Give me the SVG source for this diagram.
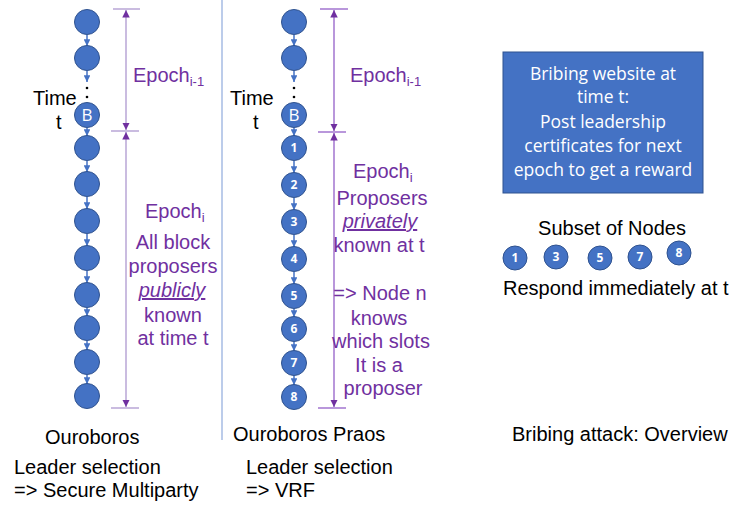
<svg xmlns="http://www.w3.org/2000/svg" width="729" height="510" viewBox="0 0 729 510">
<defs>
<marker id="ah" viewBox="0 0 10 10" refX="10" refY="5" markerWidth="4.5" markerHeight="4.5" orient="auto"><path d="M0,0 L10,5 L0,10 z" fill="#4472c4"/></marker>
<marker id="ph" viewBox="0 0 10 10" refX="10" refY="5" markerWidth="5" markerHeight="5" orient="auto"><path d="M0,0 L10,5 L0,10 z" fill="#7030a0"/></marker>
<style>
.n{fill:#4472c4;stroke:#2f528f;stroke-width:1}
.c{stroke:#4472c4;stroke-width:1.5;fill:none;marker-end:url(#ah)}
.lab{fill:#fff;font-family:"Open Sans","Liberation Sans",sans-serif;font-size:12px;font-weight:bold;text-anchor:middle}
.bl{fill:#fff;font-family:"Open Sans","Liberation Sans",sans-serif;font-size:17px;text-anchor:middle}
.t{font-family:"Liberation Sans",Arial,sans-serif;font-size:20px;fill:#000}
.p{font-family:"Liberation Sans",Arial,sans-serif;font-size:20px;fill:#7030a0}
.pm{text-anchor:middle}
.br1{stroke:#b9a6d6;stroke-width:1.5}
.br2{stroke:#a274cf;stroke-width:1.5}
.bx{fill:#fff;font-family:"Open Sans","Liberation Sans",sans-serif;font-size:17.5px;text-anchor:middle}
</style>
</defs>
<rect width="729" height="510" fill="#fff"/>
<line x1="222" y1="0" x2="222" y2="440" stroke="#8faadc" stroke-width="1.2"/>
<g id="connectors">
<line class="c" x1="87" y1="35" x2="87" y2="46"/>
<line class="c" x1="87" y1="71" x2="87" y2="82"/>
<line class="c" x1="87" y1="128" x2="87" y2="136"/>
<line class="c" x1="87" y1="161" x2="87" y2="172"/>
<line class="c" x1="87" y1="197" x2="87" y2="209"/>
<line class="c" x1="87" y1="234" x2="87" y2="246"/>
<line class="c" x1="87" y1="271" x2="87" y2="283"/>
<line class="c" x1="87" y1="308" x2="87" y2="316"/>
<line class="c" x1="87" y1="341" x2="87" y2="350"/>
<line class="c" x1="87" y1="375" x2="87" y2="384"/>
<line class="c" x1="294" y1="35" x2="294" y2="46"/>
<line class="c" x1="294" y1="71" x2="294" y2="82"/>
<line class="c" x1="294" y1="128" x2="294" y2="136"/>
<line class="c" x1="294" y1="161" x2="294" y2="173"/>
<line class="c" x1="294" y1="198" x2="294" y2="210"/>
<line class="c" x1="294" y1="235" x2="294" y2="247"/>
<line class="c" x1="294" y1="272" x2="294" y2="284"/>
<line class="c" x1="294" y1="309" x2="294" y2="317"/>
<line class="c" x1="294" y1="342" x2="294" y2="351"/>
<line class="c" x1="294" y1="376" x2="294" y2="385"/>
</g>
<g id="chain-left">
<circle class="n" cx="87" cy="22" r="12.5"/>
<circle class="n" cx="87" cy="58" r="12.5"/>
<circle cx="87" cy="88" r="1.3" fill="#000"/><circle cx="87" cy="97" r="1.3" fill="#000"/>
<circle class="n" cx="87" cy="115" r="12.5"/><text class="bl" x="87" y="121">B</text>
<circle class="n" cx="87" cy="148" r="12.5"/>
<circle class="n" cx="87" cy="184" r="12.5"/>
<circle class="n" cx="87" cy="221" r="12.5"/>
<circle class="n" cx="87" cy="258" r="12.5"/>
<circle class="n" cx="87" cy="295" r="12.5"/>
<circle class="n" cx="87" cy="328" r="12.5"/>
<circle class="n" cx="87" cy="362" r="12.5"/>
<circle class="n" cx="87" cy="396" r="12.5"/>
</g>
<g id="chain-middle">
<circle class="n" cx="294" cy="22" r="12.5"/>
<circle class="n" cx="294" cy="58" r="12.5"/>
<circle cx="294" cy="88" r="1.3" fill="#000"/><circle cx="294" cy="97" r="1.3" fill="#000"/>
<circle class="n" cx="294" cy="115" r="12.5"/><text class="bl" x="294" y="121">B</text>
<circle class="n" cx="294" cy="148" r="12.5"/><text class="lab" x="294" y="152">1</text>
<circle class="n" cx="294" cy="185" r="12.5"/><text class="lab" x="294" y="189">2</text>
<circle class="n" cx="294" cy="222" r="12.5"/><text class="lab" x="294" y="226">3</text>
<circle class="n" cx="294" cy="259" r="12.5"/><text class="lab" x="294" y="263">4</text>
<circle class="n" cx="294" cy="296" r="12.5"/><text class="lab" x="294" y="300">5</text>
<circle class="n" cx="294" cy="329" r="12.5"/><text class="lab" x="294" y="333">6</text>
<circle class="n" cx="294" cy="363" r="12.5"/><text class="lab" x="294" y="367">7</text>
<circle class="n" cx="294" cy="397" r="12.5"/><text class="lab" x="294" y="401">8</text>
</g>
<g id="brackets">
<line class="br1" x1="113" y1="9" x2="140" y2="9"/>
<line class="br1" x1="111" y1="131" x2="139" y2="131"/>
<line class="br1" x1="111" y1="408" x2="139" y2="408"/>
<line class="br1" x1="126" y1="70" x2="126" y2="10" marker-end="url(#ph)"/>
<line class="br1" x1="126" y1="70" x2="126" y2="130" marker-end="url(#ph)"/>
<line class="br1" x1="126" y1="270" x2="126" y2="132" marker-end="url(#ph)"/>
<line class="br1" x1="126" y1="270" x2="126" y2="407" marker-end="url(#ph)"/>
<line class="br2" x1="320" y1="9" x2="348" y2="9"/>
<line class="br2" x1="318" y1="132" x2="346" y2="132"/>
<line class="br2" x1="318" y1="408" x2="346" y2="408"/>
<line class="br2" x1="334" y1="70" x2="334" y2="10" marker-end="url(#ph)"/>
<line class="br2" x1="334" y1="70" x2="334" y2="131" marker-end="url(#ph)"/>
<line class="br2" x1="334" y1="270" x2="334" y2="133" marker-end="url(#ph)"/>
<line class="br2" x1="334" y1="270" x2="334" y2="407" marker-end="url(#ph)"/>
</g>
<g id="left-labels">
<text class="t" x="33" y="105">Time</text>
<text class="t" x="56" y="129">t</text>
<text class="p" x="133" y="82">Epoch<tspan font-size="13" dy="4">i-1</tspan></text>
<text class="p" x="145" y="218">Epoch<tspan font-size="13" dy="4">i</tspan></text>
<text class="p pm" x="173" y="249">All block</text>
<text class="p pm" x="173" y="273">proposers</text>
<text class="p pm" x="172" y="297" font-style="italic" text-decoration="underline">publicly</text>
<text class="p pm" x="173" y="322">known</text>
<text class="p pm" x="173" y="345">at time t</text>
</g>
<g id="middle-labels">
<text class="t" x="230" y="105">Time</text>
<text class="t" x="253" y="129">t</text>
<text class="p" x="350" y="82">Epoch<tspan font-size="13" dy="4">i-1</tspan></text>
<text class="p" x="353" y="178">Epoch<tspan font-size="13" dy="4">i</tspan></text>
<text class="p pm" x="382" y="205">Proposers</text>
<text class="p pm" x="380" y="228" font-style="italic" text-decoration="underline">privately</text>
<text class="p pm" x="379" y="252">known at t</text>
<text class="p pm" x="380" y="300">=&gt; Node n</text>
<text class="p pm" x="379" y="325">knows</text>
<text class="p pm" x="381" y="348">which slots</text>
<text class="p pm" x="379" y="372">It is a</text>
<text class="p pm" x="383" y="395">proposer</text>
</g>
<g id="bribing-box">
<rect x="503" y="52" width="200" height="141" fill="#4472c4" stroke="#2f528f" stroke-width="1"/>
<text class="bx" x="603" y="80">Bribing website at</text>
<text class="bx" x="603" y="103">time t:</text>
<text class="bx" x="603" y="128">Post leadership</text>
<text class="bx" x="603" y="152">certificates for next</text>
<text class="bx" x="603" y="176">epoch to get a reward</text>
</g>
<g id="subset">
<text class="t" x="612" y="235" text-anchor="middle">Subset of Nodes</text>
<circle class="n" cx="515" cy="258" r="12"/><text class="lab" x="515" y="262">1</text>
<circle class="n" cx="556" cy="257" r="12"/><text class="lab" x="556" y="261">3</text>
<circle class="n" cx="600" cy="258" r="12"/><text class="lab" x="600" y="262">5</text>
<circle class="n" cx="640" cy="257" r="12"/><text class="lab" x="640" y="261">7</text>
<circle class="n" cx="679" cy="253" r="12"/><text class="lab" x="679" y="257">8</text>
<text class="t" x="503" y="295">Respond immediately at t</text>
</g>
<g id="bottom-labels">
<text class="t" x="45" y="444">Ouroboros</text>
<text class="t" x="233" y="441">Ouroboros Praos</text>
<text class="t" x="512" y="441">Bribing attack: Overview</text>
<text class="t" x="14" y="474">Leader selection</text>
<text class="t" x="14" y="497">=&gt; Secure Multiparty</text>
<text class="t" x="246" y="474">Leader selection</text>
<text class="t" x="246" y="497">=&gt; VRF</text>
</g>
</svg>
